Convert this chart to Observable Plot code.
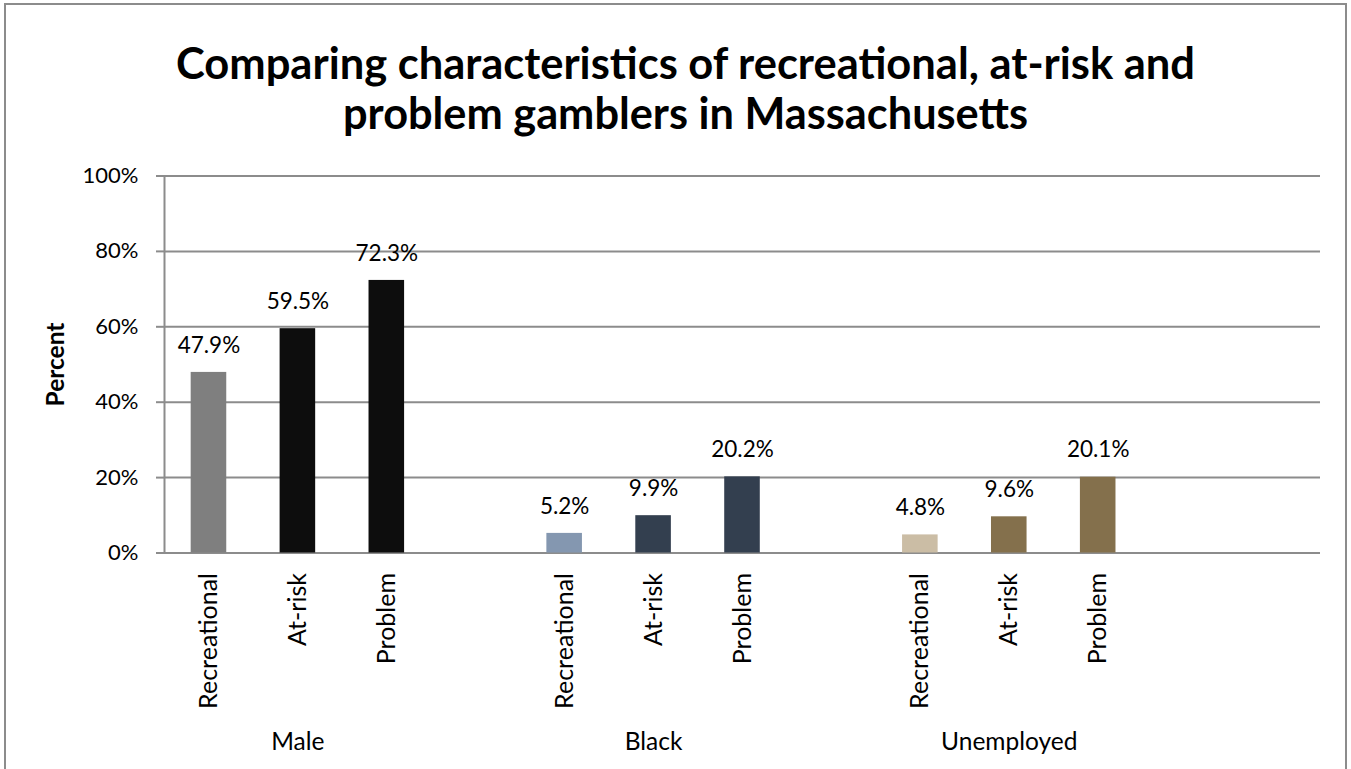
<!DOCTYPE html>
<html>
<head>
<meta charset="utf-8">
<script src="https://cdn.jsdelivr.net/npm/d3@7"></script>
<script src="https://cdn.jsdelivr.net/npm/@observablehq/plot@0.6"></script>
<style>
  html, body { margin: 0; padding: 0; background: #fff; }
  #wrap { position: relative; width: 1351px; height: 769px; overflow: hidden; background: #fff; font-family: Lato, "Open Sans", sans-serif; }
  #border { position: absolute; left: 4px; top: 3px; width: 1343px; height: 820px; border: 2px solid #8c8c8c; box-sizing: border-box; }
  #title { position: absolute; left: 0; top: 0; }
  #chart { position: absolute; left: 0; top: 150px; }
</style>
</head>
<body>
<div id="wrap">
  <div id="border"></div>
  <svg id="title" width="1351" height="150"></svg>
  <div id="chart"></div>
</div>
<script>
// ---- data ----
const titleLines = ["Comparing characteristics of recreational, at-risk and", "problem gamblers in Massachusetts"];
const yTitle = "Percent";
const groups = ["Male", "Black", "Unemployed"];
const types = ["Recreational", "At-risk", "Problem"];
const maleValues = [0.479, 0.595, 0.723];
const blackValues = [0.052, 0.099, 0.202];
const unemployedValues = [0.048, 0.096, 0.201];
const yTicks = [0, 0.2, 0.4, 0.6, 0.8, 1.0];

// ---- styles ----
const maleColors = ["#7f7f7f", "#0d0d0d", "#0d0d0d"];
const blackColors = ["#8497b0", "#333f4f", "#333f4f"];
const unemployedColors = ["#cbbda5", "#84704c", "#84704c"];

const seriesValues = [maleValues, blackValues, unemployedValues];
const seriesColors = [maleColors, blackColors, unemployedColors];

// build slot domain: 3 bars per group + spacer, then one extra spacer
const slots = [];
const rows = [];
groups.forEach((g, gi) => {
  types.forEach((t, ti) => {
    const key = g + "|" + t;
    slots.push(key);
    rows.push({key, group: g, type: t, value: seriesValues[gi][ti], color: seriesColors[gi][ti]});
  });
  slots.push("gap" + gi);
});
slots.push("gapEnd");
const groupLabels = groups.map(g => ({key: g + "|" + types[1], label: g}));

// ---- title ----
const tsvg = d3.select("#title");
const baselines = [79, 129];
const widths = [1019, 685];
titleLines.forEach((line, i) => {
  tsvg.append("text")
    .attr("x", 685.5).attr("y", baselines[i])
    .attr("text-anchor", "middle")
    .attr("font-family", "Lato, 'Open Sans', sans-serif")
    .attr("font-weight", "bold")
    .attr("font-size", 44)
    .attr("textLength", widths[i])
    .attr("lengthAdjust", "spacingAndGlyphs")
    .attr("fill", "#000")
    .text(line);
});

// ---- chart ----
const gridColor = "#8c8c8c";
const fmt = d3.format(".1%");
const chart = Plot.plot({
  width: 1351,
  height: 619,
  marginTop: 25.5,
  marginBottom: 216.5,
  marginLeft: 164,
  marginRight: 31,
  style: {fontFamily: "Lato, 'Open Sans', sans-serif", fontSize: "22px", color: "#000", background: "transparent"},
  x: {type: "band", domain: slots, paddingInner: 0.6, paddingOuter: 0.3, round: false, axis: null},
  y: {domain: [0, 1], axis: null},
  marks: [
    Plot.gridY(yTicks, {stroke: gridColor, strokeOpacity: 1, strokeWidth: 2}),
    Plot.axisY(yTicks, {label: null, tickFormat: d3.format(".0%"), tickSize: 8, tickPadding: 18, stroke: gridColor, strokeWidth: 2, fontSize: 22, fill: "#000"}),
    Plot.frame({anchor: "left", stroke: gridColor, strokeWidth: 2}),
    Plot.barY(rows, {x: "key", y: "value", fill: "color"}),
    Plot.text(rows, {x: "key", y: "value", text: d => fmt(d.value), dy: -27, fontSize: 22.5, fill: "#000", lineAnchor: "middle"}),
    Plot.text(rows, {x: "key", text: "type", frameAnchor: "bottom", dy: 20, rotate: -90, textAnchor: "end", lineAnchor: "middle", fontSize: 25, fill: "#000"}),
    Plot.text(groupLabels, {x: "key", text: "label", frameAnchor: "bottom", dy: 189.5, textAnchor: "middle", lineAnchor: "middle", fontSize: 24.5, fill: "#000"}),
    Plot.text([yTitle], {text: d => d, frameAnchor: "left", dx: -108, rotate: -90, textAnchor: "middle", fontWeight: "bold", fontSize: 24.5, fill: "#000", lineAnchor: "middle"})
  ]
});
document.getElementById("chart").appendChild(chart);
</script>
</body>
</html>
